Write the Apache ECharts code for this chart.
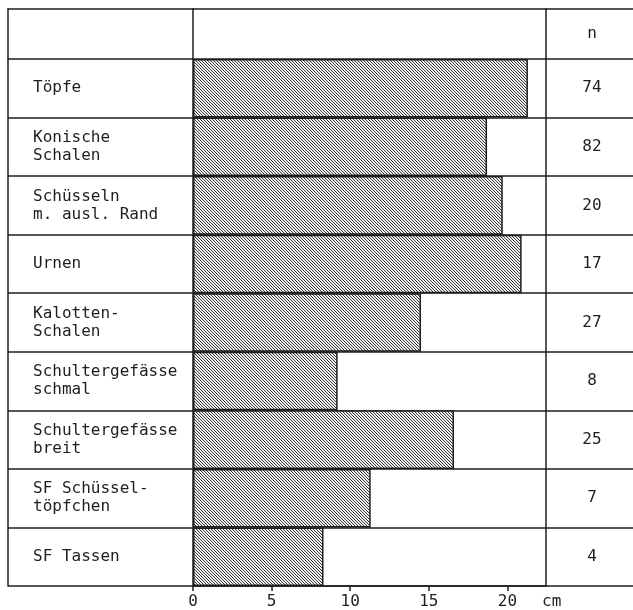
<!DOCTYPE html>
<html><head><meta charset="utf-8">
<script src="https://cdn.jsdelivr.net/npm/echarts@6/dist/echarts.min.js"></script>
<style>html,body{margin:0;padding:0;background:#fff}#c{width:633px;height:610px}</style>
</head><body><div id="c"></div>
<script>
// ---- data ----
const categories = ['Töpfe','Konische\nSchalen','Schüsseln\nm. ausl. Rand','Urnen','Kalotten-\nSchalen','Schultergefässe\nschmal','Schultergefässe\nbreit','SF Schüssel-\ntöpfchen','SF Tassen'];
const lengths = [21.3, 18.7, 19.7, 20.9, 14.5, 9.2, 16.6, 11.3, 8.3];
const counts = ['74','82','20','17','27','8','25','7','4'];
const xTicks = [0, 5, 10, 15, 20];
const xMax = 22.45;
const nHeader = 'n';
const axisUnit = 'cm';

// ---- style ----
const FONT = 'DejaVu Sans Mono';
const INK = '#1e1e1e';
const LINE = {color: INK, width: 1.5};

function hatch() {
  const s = 3, c = document.createElement('canvas');
  c.width = s; c.height = s;
  const g = c.getContext('2d');
  g.fillStyle = '#fff'; g.fillRect(0, 0, s, s);
  for (let y = 0; y < s; y++) for (let x = 0; x < s; x++) {
    const d = ((x - y) % s + s) % s;
    if (d === 0) { g.fillStyle = '#3a3a3a'; g.fillRect(x, y, 1, 1); }
    else if (d === 1) { g.fillStyle = '#e2e2e2'; g.fillRect(x, y, 1, 1); }
  }
  return c;
}

const rowsTop = 59, rowsBottom = 24, headTop = 9, headH = 50;
const colL = 8, colB = 193, colRw = 87;

const hiddenValueX = (gi, pos, line) => ({
  type: 'value', gridIndex: gi, position: pos, min: 0, max: 1,
  axisLine: {show: line, onZero: false, lineStyle: LINE}, axisTick: {show: false},
  axisLabel: {show: false}, splitLine: {show: false}
});

const catY = (gi, data, opts) => Object.assign({
  type: 'category', gridIndex: gi, inverse: true, data: data,
  axisLine: {show: false, lineStyle: LINE}, axisTick: {show: false},
  axisLabel: {show: false}, splitLine: {show: false}
}, opts);

const chart = echarts.init(document.getElementById('c'));
chart.setOption({
  animation: false,
  backgroundColor: '#fff',
  grid: [
    {left: colB, right: colRw, top: rowsTop, bottom: rowsBottom},            // 0 bars
    {left: colL, width: colB - colL, top: rowsTop, bottom: rowsBottom},      // 1 labels col
    {left: 633 - colRw, right: 0, top: rowsTop, bottom: rowsBottom},         // 2 n col
    {left: colL, width: colB - colL, top: headTop, height: headH},           // 3 header left
    {left: colB, right: colRw, top: headTop, height: headH},                 // 4 header mid
    {left: 633 - colRw, right: 0, top: headTop, height: headH}               // 5 header right
  ],
  xAxis: [
    {
      type: 'value', gridIndex: 0, min: 0, max: xMax, interval: 5,
      axisLine: {show: true, onZero: false, lineStyle: LINE},
      axisTick: {show: true, length: 5, lineStyle: LINE, customValues: xTicks},
      axisLabel: {customValues: xTicks, margin: 8, fontFamily: FONT, fontSize: 16, color: INK},
      splitLine: {show: false},
      name: axisUnit, nameLocation: 'end', nameGap: -4,
      nameTextStyle: {fontFamily: FONT, fontSize: 16, color: INK, verticalAlign: 'top', padding: [8, 0, 0, 0]}
    },
    hiddenValueX(1, 'bottom', false),
    hiddenValueX(2, 'bottom', false),
    hiddenValueX(3, 'top', true),
    hiddenValueX(4, 'top', true),
    hiddenValueX(5, 'top', true)
  ],
  yAxis: [
    catY(0, categories, {
      position: 'left',
      axisLine: {show: true, lineStyle: LINE},
      axisLabel: {show: true, interval: 0, margin: colB - 33, align: 'left',
        fontFamily: FONT, fontSize: 16, lineHeight: 18, color: INK, padding: [6, 0, 0, 0]},
      splitLine: {show: true, interval: 0, lineStyle: LINE}
    }),
    catY(0, counts, {
      position: 'right',
      axisLine: {show: true, lineStyle: LINE},
      axisLabel: {show: true, interval: 0, margin: 46, align: 'center',
        fontFamily: FONT, fontSize: 16, color: INK, padding: [6, 0, 0, 0]}
    }),
    catY(1, categories, {
      position: 'left',
      axisLine: {show: true, lineStyle: LINE},
      splitLine: {show: true, interval: 0, lineStyle: LINE}
    }),
    catY(2, counts, {
      position: 'left',
      splitLine: {show: true, interval: 0, lineStyle: LINE}
    }),
    catY(3, [''], {position: 'left', axisLine: {show: true, lineStyle: LINE}}),
    catY(4, [''], {position: 'left', axisLine: {show: true, lineStyle: LINE}}),
    catY(5, [nHeader], {
      position: 'left',
      axisLine: {show: true, lineStyle: LINE},
      axisLabel: {show: true, inside: true, margin: 46, align: 'center',
        fontFamily: FONT, fontSize: 16, color: INK, padding: [6, 0, 0, 0]}
    })
  ],
  series: [{
    type: 'bar', xAxisIndex: 0, yAxisIndex: 0,
    data: lengths, barWidth: '100%', silent: true,
    itemStyle: {color: {image: hatch(), repeat: 'repeat'}, borderColor: INK, borderWidth: 1.5}
  }]
});
</script>
</body></html>
